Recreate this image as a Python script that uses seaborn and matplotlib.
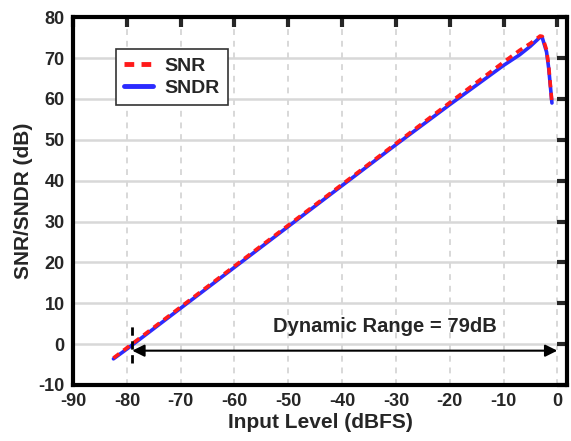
import numpy as np
import pandas as pd
import matplotlib
matplotlib.use("Agg")
import matplotlib.pyplot as plt
import seaborn as sns

# values
input_level = [-82.5, -80, -70, -60, -50, -40, -30, -20, -10, -7, -5, -3.2, -2.8, -2, -1.6, -1]
snr = [-3.4, -0.9, 9.1, 19.1, 29.1, 39.1, 49.1, 59.1, 69.0, 71.9, 73.6, 75.4, 75.3, 72, 68, 59]
sndr = [-3.6, -1.2, 8.8, 18.8, 28.8, 38.8, 48.8, 58.6, 68.2, 70.8, 72.9, 75.1, 75.0, 71.5, 67.5, 59]

dr_start = -79
dr_end = 0
dr_label = "Dynamic Range = 79dB"

df = pd.DataFrame({"level": input_level * 2,
                   "value": sndr + snr,
                   "curve": ["SNDR"] * len(sndr) + ["SNR"] * len(snr)})

sns.set_style("white")
plt.rcParams["font.family"] = ["Liberation Sans", "DejaVu Sans"]
plt.rcParams["font.weight"] = "bold"
plt.rcParams["axes.unicode_minus"] = False

fig = plt.figure(figsize=(5.71, 4.41), dpi=100)
ax = fig.add_axes([0.128, 0.127, 0.865, 0.834])

# grid: solid horizontal, dashed vertical
for y in range(-10, 81, 10):
    ax.axhline(y, color="#d8d8d8", lw=1.8, zorder=0)
for x in range(-80, 1, 10):
    ax.axvline(x, color="#d8d8d8", lw=1.4, ls=(0, (3, 3)), zorder=0)

sns.lineplot(data=df[df.curve == "SNDR"], x="level", y="value", color="#2b2bff",
             lw=2.6, ax=ax, label="SNDR", zorder=3)
sns.lineplot(data=df[df.curve == "SNR"], x="level", y="value", color="#ff1a1a",
             lw=2.6, ls=(0, (2, 1.5)), ax=ax, label="SNR", zorder=4)

# dynamic range annotation
ax.plot([dr_start, dr_start], [-4.5, 4.8], color="black", lw=2, ls=(0, (3, 2)), zorder=5)
ax.annotate("", xy=(dr_end, -1.6), xytext=(dr_start, -1.6),
            arrowprops=dict(arrowstyle="<|-|>", color="black", lw=1.5,
                            mutation_scale=18, shrinkA=0, shrinkB=0), zorder=5)
ax.text(-32, 2.0, dr_label, ha="center", va="bottom", fontsize=14.5, fontweight="bold")

ax.set_xlim(-90, 1.8)
ax.set_ylim(-10, 80)
ax.set_xticks(range(-90, 1, 10))
ax.set_yticks(range(-10, 81, 10))
ax.set_xlabel("Input Level (dBFS)", fontsize=15, fontweight="bold", labelpad=2)
ax.set_ylabel("SNR/SNDR (dB)", fontsize=15, fontweight="bold", labelpad=4)
ax.tick_params(direction="in", length=7, width=3, labelsize=13,
               top=True, right=True, pad=6)
for lab in ax.get_xticklabels() + ax.get_yticklabels():
    lab.set_fontweight("bold")
for s in ax.spines.values():
    s.set_linewidth(3)
    s.set_color("black")

handles, labels = ax.get_legend_handles_labels()
order = [labels.index("SNR"), labels.index("SNDR")]
leg = ax.legend([handles[i] for i in order], [labels[i] for i in order],
                loc="upper left", bbox_to_anchor=(0.087, 0.913), borderaxespad=0,
                fontsize=14, frameon=True, fancybox=False, framealpha=1,
                edgecolor="#333333", handlelength=1.5, handletextpad=0.6,
                borderpad=0.4, labelspacing=0.25)
leg.get_frame().set_linewidth(1.2)
for t in leg.get_texts():
    t.set_fontweight("bold")
for h in leg.get_lines():
    h.set_linewidth(3.5)

fig.savefig("out.png", dpi=100)
